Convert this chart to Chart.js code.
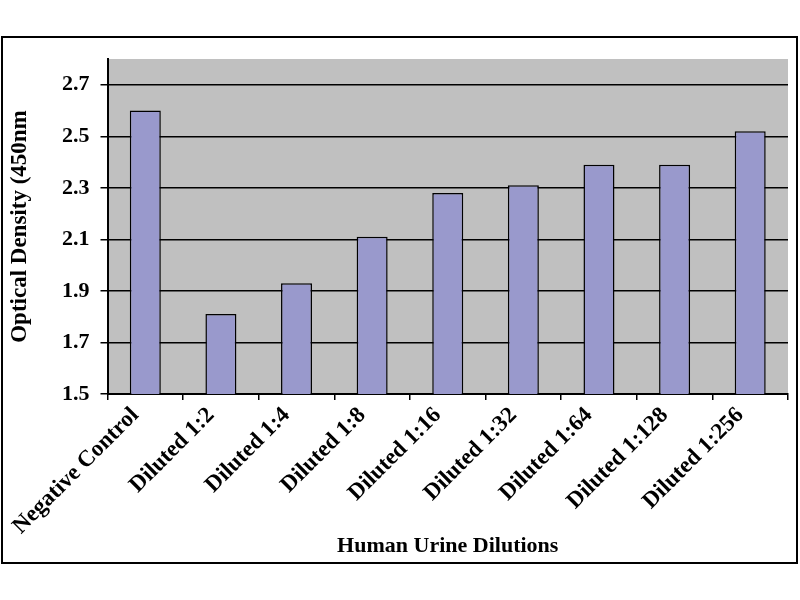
<!DOCTYPE html>
<html>
<head>
<meta charset="utf-8">
<title>Human Urine Dilutions</title>
<script src="https://cdn.jsdelivr.net/npm/chart.js@4/dist/chart.umd.min.js"></script>
<style>
  html, body { margin: 0; padding: 0; background: #fff; }
  #wrap { width: 800px; height: 600px; position: relative; }
</style>
</head>
<body>
<div id="wrap"><canvas id="odChart"></canvas></div>
<script>
// Data
const categories = ['Negative Control', 'Diluted 1:2', 'Diluted 1:4', 'Diluted 1:8', 'Diluted 1:16',
                    'Diluted 1:32', 'Diluted 1:64', 'Diluted 1:128', 'Diluted 1:256'];
const odValues = [2.60, 1.81, 1.93, 2.11, 2.28, 2.31, 2.39, 2.39, 2.52];
const yTicks = [1.5, 1.7, 1.9, 2.1, 2.3, 2.5, 2.7];
const yMin = 1.5;
const yMax = 2.8;

const serif = "'Liberation Serif', 'Times New Roman', serif";

// gray plot background + outer frame
const framePlugin = {
    id: 'frame',
    beforeDraw(chart) {
        const { ctx, chartArea } = chart;
        ctx.save();
        ctx.fillStyle = '#ffffff';
        ctx.fillRect(0, 0, chart.width, chart.height);
        ctx.fillStyle = '#c0c0c0';
        ctx.fillRect(chartArea.left, chartArea.top, chartArea.right - chartArea.left, chartArea.bottom - chartArea.top);
        ctx.strokeStyle = '#000';
        ctx.lineWidth = 2;
        ctx.strokeRect(2, 37, 795, 526);
        ctx.restore();
    }
};

const ctx = document.getElementById('odChart').getContext('2d');
new Chart(ctx, {
    type: 'bar',
    data: {
        labels: categories,
        datasets: [{
            data: odValues,
            backgroundColor: '#9999cc',
            borderColor: '#000',
            borderWidth: 1.5,
            borderSkipped: 'start',
            categoryPercentage: 1,
            barPercentage: 0.41
        }]
    },
    options: {
        responsive: true,
        maintainAspectRatio: false,
        animation: false,
        layout: { padding: { top: 59, right: 12, left: 0, bottom: 0 } },
        plugins: {
            legend: { display: false },
            tooltip: { enabled: false }
        },
        scales: {
            x: {
                afterFit(scale) { scale.height = 206; },
                grid: {
                    offset: true,
                    drawOnChartArea: false,
                    color: '#000',
                    lineWidth: 1.5,
                    tickLength: 6
                },
                border: { color: '#000', width: 2 },
                ticks: {
                    autoSkip: false,
                    minRotation: 45,
                    maxRotation: 45,
                    color: '#000',
                    padding: 2,
                    labelOffset: -10,
                    font: { family: serif, size: 23, weight: 'bold' }
                },
                title: {
                    display: true,
                    text: 'Human Urine Dilutions',
                    color: '#000',
                    padding: { top: 0, bottom: 40 },
                    font: { family: serif, size: 22, weight: 'bold' }
                }
            },
            y: {
                min: yMin,
                max: yMax,
                afterFit(scale) { scale.width = 107.5; },
                afterBuildTicks(scale) {
                    scale.ticks = yTicks.map(v => ({ value: v }));
                },
                grid: {
                    color: '#000',
                    lineWidth: 1.5,
                    tickLength: 7
                },
                border: { color: '#000', width: 2 },
                ticks: {
                    color: '#000',
                    padding: 11,
                    callback: v => Number(v).toFixed(1),
                    font: { family: serif, size: 22, weight: 'bold' }
                },
                title: {
                    display: true,
                    text: 'Optical Density (450nm',
                    color: '#000',
                    padding: { top: 6, bottom: 0 },
                    font: { family: serif, size: 23, weight: 'bold' }
                }
            }
        }
    },
    plugins: [framePlugin]
});
</script>
</body>
</html>
